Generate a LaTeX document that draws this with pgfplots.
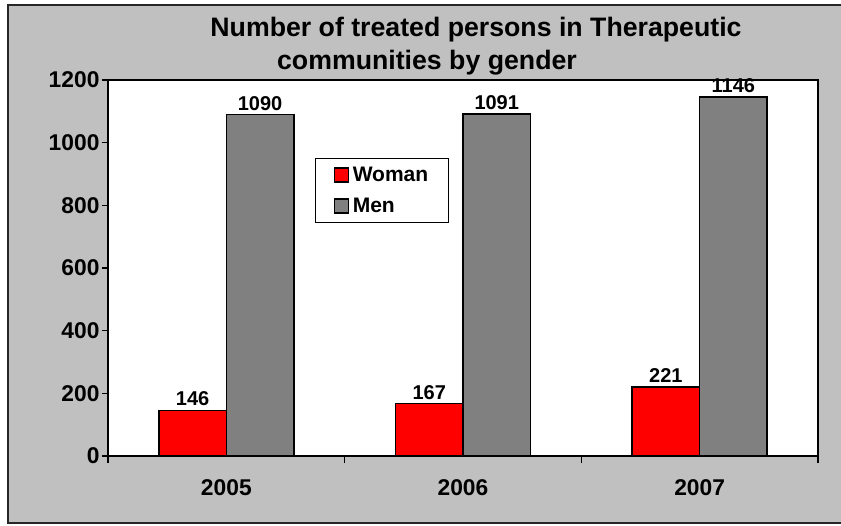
\documentclass[border=0pt]{standalone}
\usepackage{fontspec}
\setmainfont{Liberation Sans}
\usepackage{pgfplots}
\pgfplotsset{compat=1.18}
\definecolor{silverbg}{RGB}{192,192,192}
\definecolor{menGray}{RGB}{128,128,128}
\definecolor{womanRed}{RGB}{255,0,0}
\begin{document}
\begin{tikzpicture}
\useasboundingbox (0pt,0pt) rectangle (841pt,525pt);
\fill[silverbg] (8pt,2pt) rectangle (841pt,520pt);
\draw[line width=1.5pt, black!85] (841pt,520pt) -- (8pt,520pt) -- (8pt,2pt) -- (841pt,2pt);
\node[anchor=base, font=\bfseries\fontsize{26.7}{30}\selectfont] at (476pt,488pt) {Number of treated persons in Therapeutic};
\node[anchor=base, font=\bfseries\fontsize{26.7}{30}\selectfont] at (427pt,455pt) {communities by gender};
\begin{axis}[
  at={(108pt,69pt)}, anchor=south west,
  scale only axis, width=710pt, height=376pt,
  axis background/.style={fill=white},
  axis line style={black, line width=1.5pt},
  ybar=0pt, bar width=67.5pt,
  xmin=-0.5, xmax=2.5, ymin=0, ymax=1200,
  xtick={0,1,2}, xticklabels={2005,2006,2007},
  minor xtick={-0.5,0.5,1.5,2.5},
  ytick={0,200,...,1200},
  tick align=outside, xtick pos=bottom, ytick pos=left,
  major tick length=6pt, minor tick length=7pt,
  major x tick style={draw=none},
  minor x tick style={black, line width=1.5pt},
  major y tick style={black, line width=1.5pt},
  /pgf/number format/assume math mode=true,
  /pgf/number format/1000 sep={},
  ticklabel style={font=\bfseries\fontsize{22.8}{26}\selectfont},
  yticklabel style={xshift=1pt},
  xticklabel style={yshift=-14pt},
  nodes near coords,
  every node near coord/.append style={font=\bfseries\fontsize{20}{24}\selectfont, black},
  legend style={at={(0.2915,0.7926)}, anchor=north west, draw=black, line width=1.2pt,
    font=\bfseries\fontsize{21}{24}\selectfont, inner xsep=18pt, inner ysep=6.5pt, row sep=11pt, column sep=2pt},
  legend cell align=left,
  legend image code/.code={\draw[#1, line width=1.2pt] (0pt,-7pt) rectangle (14pt,7pt);},
]
\addplot[fill=womanRed, draw=black, line width=1.5pt] coordinates {(0,146) (1,167) (2,221)};
\addplot[fill=menGray, draw=black, line width=1.5pt] coordinates {(0,1090) (1,1091) (2,1146)};
\legend{Woman,Men}
\end{axis}
\end{tikzpicture}
\end{document}
